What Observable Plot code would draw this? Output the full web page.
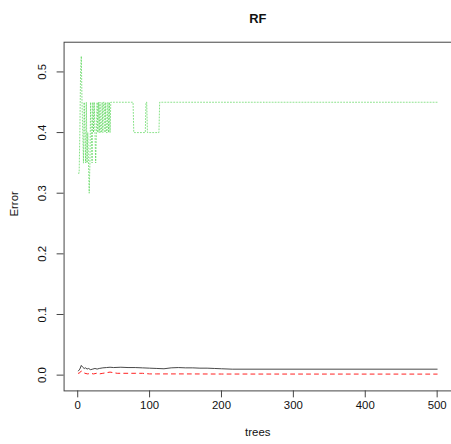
<!DOCTYPE html>
<html>
<head>
<meta charset="utf-8">
<script src="https://cdn.jsdelivr.net/npm/d3@7"></script>
<script src="https://cdn.jsdelivr.net/npm/@observablehq/plot@0.6"></script>
<style>
  html, body { margin: 0; padding: 0; background: #fff; overflow: hidden; }
</style>
</head>
<body>
<div id="chart"></div>
<script>
// ---- data ----
const chartTitle = "RF";
const xLabel = "trees";
const yLabel = "Error";
const xTicks = [0, 100, 200, 300, 400, 500];
const yTicks = [0.0, 0.1, 0.2, 0.3, 0.4, 0.5];

// class "2" error (green, dotted): per-tree values for trees 1..46
const greenEarly = [0.333, 0.333, 0.4, 0.5, 0.526, 0.45, 0.4, 0.35, 0.45, 0.4,
  0.35, 0.45, 0.35, 0.4, 0.35, 0.3, 0.35, 0.45, 0.4, 0.35,
  0.45, 0.4, 0.45, 0.4, 0.35, 0.4, 0.45, 0.4, 0.45, 0.4,
  0.45, 0.4, 0.4, 0.45, 0.4, 0.45, 0.45, 0.4, 0.45, 0.4,
  0.4, 0.45, 0.4, 0.45, 0.4, 0.45];
// then runs: [first tree, value] until the next run starts; last run ends at 500
const greenRunStart = [47, 78, 95, 97, 114];
const greenRunValue = [0.45, 0.40, 0.45, 0.40, 0.45];
const nTrees = 500;

// OOB error (black, solid): key points [tree, error]
const oobTree = [1, 3, 5, 7, 9, 11, 13, 15, 18, 21, 24, 27, 30, 35, 40, 45, 50, 60, 70, 80, 90, 100, 110, 120, 130, 140, 150, 160, 170, 180, 190, 200, 215, 500];
const oobErr  = [0.007, 0.010, 0.016, 0.013, 0.011, 0.012, 0.010, 0.011, 0.009, 0.010, 0.011, 0.010, 0.011, 0.012, 0.0125, 0.013, 0.0125, 0.013, 0.0125, 0.0125, 0.012, 0.0115, 0.011, 0.0105, 0.012, 0.0125, 0.012, 0.012, 0.0115, 0.0115, 0.011, 0.0105, 0.0098, 0.0098];

// class "1" error (red, dashed): key points [tree, error]
const redTree = [1, 3, 5, 7, 10, 14, 18, 22, 26, 30, 35, 40, 45, 50, 55, 60, 70, 80, 90, 100, 110, 120, 150, 200, 500];
const redErr  = [0.003, 0.004, 0.007, 0.005, 0.003, 0.002, 0.003, 0.002, 0.003, 0.002, 0.003, 0.004, 0.005, 0.004, 0.003, 0.003, 0.003, 0.003, 0.003, 0.002, 0.002, 0.002, 0.002, 0.0018, 0.0017];

// ---- build tables ----
const green = greenEarly.map((v, i) => ({tree: i + 1, err: v}));
greenRunStart.forEach((s, k) => {
  const e = k + 1 < greenRunStart.length ? greenRunStart[k + 1] - 1 : nTrees;
  for (let t = s; t <= e; t++) green.push({tree: t, err: greenRunValue[k]});
});
const oob = oobTree.map((t, i) => ({tree: t, err: oobErr[i]}));
const red = redTree.map((t, i) => ({tree: t, err: redErr[i]}));

const font = "'Liberation Sans', Arial, Helvetica, sans-serif";
const axisColor = "#444";

const chart = Plot.plot({
  width: 454,
  height: 444,
  marginLeft: 64,
  marginRight: 0,
  marginTop: 42,
  marginBottom: 51,
  style: {fontFamily: font, fontSize: "12px", color: "#111", background: "#fff"},
  x: {domain: [-18.96, 519.96]},
  y: {domain: [-0.026, 0.549]},
  marks: [
    Plot.frame({stroke: axisColor}),
    Plot.axisX({ticks: xTicks, tickSize: 7, tickPadding: 3, label: null, stroke: axisColor, fontSize: 11.5, fill: "#111"}),
    Plot.axisY({ticks: yTicks, tickSize: 7, tickFormat: () => "", label: null, stroke: axisColor}),
    Plot.text(yTicks, {y: d => d, text: d => d3.format(".1f")(d), frameAnchor: "left", dx: -22, rotate: -90, textAnchor: "middle", fontSize: 11.5, fill: "#111"}),
    Plot.line(oob, {x: "tree", y: "err", stroke: "#333", strokeWidth: 0.9}),
    Plot.line(red, {x: "tree", y: "err", stroke: "#ff2020", strokeWidth: 1, strokeDasharray: "4,4"}),
    Plot.line(green, {x: "tree", y: "err", stroke: "#33cc33", strokeWidth: 1, strokeDasharray: "1,2", strokeOpacity: 0.6}),
    Plot.text([xLabel], {frameAnchor: "bottom", dy: 45, fontSize: 11.5, fill: "#111"}),
    Plot.text([yLabel], {frameAnchor: "left", dx: -50, rotate: -90, fontSize: 11.5, fill: "#111"}),
    Plot.text([chartTitle], {frameAnchor: "top", dy: -29, fontSize: 13, fontWeight: "bold", fill: "#111"})
  ]
});
document.getElementById("chart").appendChild(chart);
</script>
</body>
</html>
